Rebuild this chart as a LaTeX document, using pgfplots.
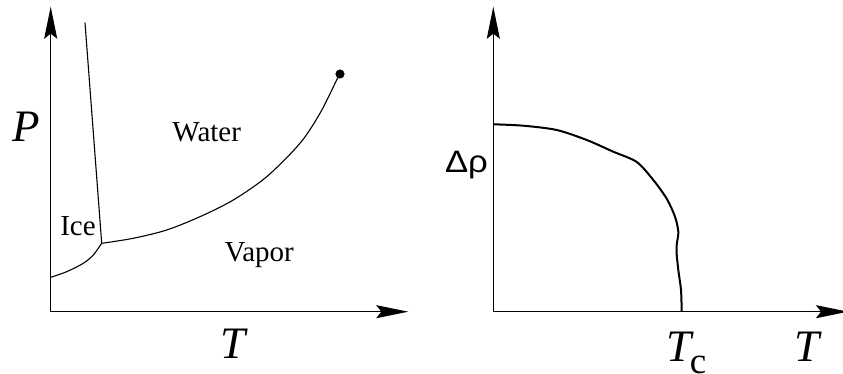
\documentclass[border=0pt]{standalone}
\usepackage{pgfplots}
\pgfplotsset{compat=1.18}
\usetikzlibrary{arrows.meta}
\usepackage{fontspec}
\setmainfont{Liberation Serif}
\newfontfamily\greeksans{Liberation Sans}

\begin{document}
\begin{tikzpicture}
% page is 843 x 374 bp, one bp per pixel of the reference
\useasboundingbox (0,0) rectangle (843bp,374bp);
\pgfplotsset{
    phase/.style={
        axis lines=left,
        x=1bp, y=1bp,
        xmin=0, ymin=0, ymax=305,
        enlargelimits=false,
        xtick=\empty, ytick=\empty,
        clip=false,
        anchor=south west,
        axis line style={line width=1.3bp,
            -{Stealth[length=32bp, width=13bp, inset=5bp]}},
    },
}
\tikzset{
    big/.style={font=\fontsize{45bp}{45bp}\selectfont\itshape, inner sep=0pt, anchor=base},
    phasetxt/.style={font=\fontsize{29bp}{29bp}\selectfont, inner sep=0pt, anchor=base},
}

% Left: P-T phase diagram of water
\begin{axis}[phase, at={(50.7bp,62.3bp)}, xmax=357.6]
    % melting line
    \addplot[black, line width=1.1bp] coordinates {(34.3,289) (51,68.4)};
    % sublimation curve
    \addplot[black, line width=1.1bp, smooth] coordinates {
        (0,34.4) (16,40) (32.6,48.4) (42.6,56.7) (51,68.4)};
    % vaporization curve up to the critical point
    \addplot[black, line width=1.1bp, smooth] coordinates {
        (51,68.4) (82.6,73.4) (116,81.7) (149.3,95) (182.6,111.7)
        (216,135) (249.3,168.4) (269.3,198.4) (286,231.7) (289.3,237.7)};
    \addplot[black, only marks, mark=*, mark size=4.3bp] coordinates {(289.3,237.7)};

    \node[big] at (axis cs:-24.7,170) {P};
    \node[big] at (axis cs:182.3,-46.3) {T};
    \node[phasetxt] at (axis cs:156,170) {Water};
    \node[phasetxt] at (axis cs:27.3,76.7) {Ice};
    \node[phasetxt] at (axis cs:208.5,50) {Vapor};
\end{axis}

% Right: density difference vs temperature
\begin{axis}[phase, at={(493.3bp,62.3bp)}, xmax=354.7]
    \addplot[black, line width=2bp, smooth, tension=0.5] coordinates {
        (0,187.4) (30,186) (63.4,181.7) (93.4,171.7) (120,160)
        (143.4,149.7) (160,131.7) (173.4,113) (181.7,95) (185,80)
        (183.6,68.4) (183.2,60) (185,41.7) (187.7,21.7) (188.4,0)};

    \node[font=\fontsize{31bp}{31bp}\selectfont\greeksans, inner sep=0pt, anchor=base]
        at (axis cs:-26.8,139.4) {\scalebox{1.12}[1]{Δρ}};
    \node[big, anchor=base west] at (axis cs:173.4,-50)
        {T\kern-2bp\raisebox{-12bp}{\fontsize{37bp}{37bp}\selectfont\upshape c}};
    \node[big] at (axis cs:313.4,-50) {T};
\end{axis}
\end{tikzpicture}
\end{document}
